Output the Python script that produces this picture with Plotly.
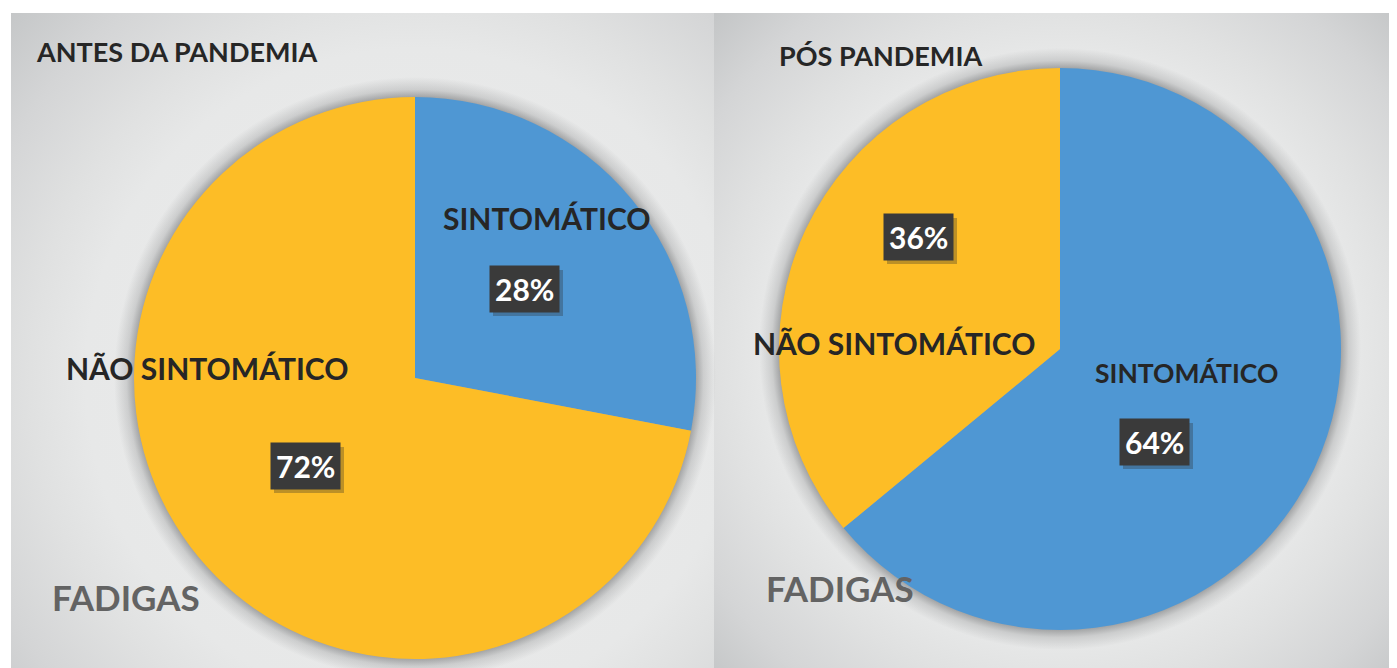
import numpy as np
import plotly.graph_objects as go

# ---------------- data ----------------
categories = ["SINTOMÁTICO", "NÃO SINTOMÁTICO"]
antes_values = [28, 72]
pos_values = [64, 36]
panel_titles = ["ANTES DA PANDEMIA", "PÓS PANDEMIA"]
footer_label = "FADIGAS"
slice_colors = ["#4F97D3", "#FDBD26"]

# ---------------- layout helpers ----------------
W, H = 1397, 668
OX, OY = 8, 8  # page body margin offset


def px(x):
    return (x - OX) / W


def py(y):
    return 1 - (y - OY) / H


FONT = "Lato"
R = 281
centers = [(415, 378), (1060, 349)]

fig = go.Figure()

# background panels with radial gradient centred on each pie
panels = [(11, 13, 714, 668), (714, 13, 1397, 668)]
edge_cols = ["#c4c6c7", "#c2c4c5"]
for (x0, y0, x1, y1), (cx, cy), ec in zip(panels, centers, edge_cols):
    Rg = max(np.hypot(x - cx, y - cy) for x in (x0, x1) for y in (y0, y1)) + 5
    # rectangle with zero-area spikes so that the gradient box is centred on the pie
    xs = [x0, cx, cx, cx, x1, x1, cx + Rg, x1, x1, cx, cx, cx, x0, x0, cx - Rg, x0, x0]
    ys = [y0, y0, cy - Rg, y0, y0, cy, cy, cy, y1, y1, cy + Rg, y1, y1, cy, cy, cy, y0]
    fig.add_trace(go.Scatter(
        x=xs, y=ys, mode="lines", line=dict(width=0), fill="toself",
        fillgradient=dict(type="radial",
                          colorscale=[[0, "#ededed"], [0.6, "#e7e8e8"], [0.7, "#e0e1e1"],
                                      [0.85, "#d4d5d6"], [1, ec]]),
        hoverinfo="skip", showlegend=False))

# soft shadow around each pie
t = np.linspace(0, 2 * np.pi, 241)
for (cx, cy) in centers:
    rs = R + 20
    fig.add_trace(go.Scatter(
        x=cx + rs * np.cos(t), y=cy + rs * np.sin(t),
        mode="lines", line=dict(width=0), fill="toself",
        fillgradient=dict(type="radial",
                          colorscale=[[0, "rgba(80,82,84,0.5)"], [R / rs, "rgba(80,82,84,0.45)"],
                                      [R / rs + 0.025, "rgba(80,82,84,0.18)"], [1, "rgba(80,82,84,0)"]]),
        hoverinfo="skip", showlegend=False))

# pies
for (cx, cy), vals in zip(centers, [antes_values, pos_values]):
    fig.add_trace(go.Pie(
        values=vals, labels=categories, sort=False, direction="clockwise", rotation=0,
        marker=dict(colors=slice_colors, line=dict(width=0)),
        textinfo="none", hoverinfo="label+percent", showlegend=False,
        domain=dict(x=[px(cx - R), px(cx + R)], y=[py(cy + R), py(cy - R)])))

# faint frame lines of the original chart areas
shapes = []
frame_lines = [
    (380, 57, 714, 57), (68, 57, 380, 57), (380, 57, 380, 97),
    (742, 29, 1380, 29), (742, 29, 742, 668), (1380, 29, 1380, 668),
    (1100, 29, 1100, 68), (742, 569, 812, 569), (812, 569, 812, 668),
]
for (x0, y0, x1, y1) in frame_lines:
    shapes.append(dict(type="line", xref="x", yref="y", x0=x0, y0=y0, x1=x1, y1=y1,
                       line=dict(color="rgba(255,255,255,0.35)", width=1), layer="below"))

ann = []


def label(x, y, text, size, color="#262626", bg=None, pad=0, xanchor="center"):
    ann.append(dict(x=px(x), y=py(y), xref="paper", yref="paper", text=text, showarrow=False,
                    xanchor=xanchor, yanchor="middle",
                    font=dict(family=FONT, size=size, color=color, weight="bold"),
                    bgcolor=bg, borderpad=pad))


def pct_box(x, y, v):
    # drop shadow of the box (drawn as a shape under the annotation)
    bw, bh, off = 70, 46, 4
    shapes.append(dict(type="rect", xref="x", yref="y",
                       x0=x - bw / 2 + off, x1=x + bw / 2 + off,
                       y0=y - bh / 2 + off, y1=y + bh / 2 + off,
                       fillcolor="rgba(40,40,40,0.3)", line=dict(width=0), layer="above"))
    label(x, y, f"{v}%", 30, color="white", bg="#3a3a3a", pad=5)


# left panel
label(35, 52, panel_titles[0], 27, xanchor="left")
label(547, 218, categories[0], 30)
pct_box(524, 289, antes_values[0])
label(207, 368, categories[1], 30)
pct_box(305, 466, antes_values[1])
label(126, 597, footer_label, 35, color="#636363")

# right panel
label(778, 55, panel_titles[1], 27, xanchor="left")
pct_box(918, 237, pos_values[1])
label(894, 343, categories[1], 30)
label(1186, 373, categories[0], 26.5)
pct_box(1154, 442, pos_values[0])
label(840, 588, footer_label, 35, color="#636363")

fig.update_layout(
    width=W, height=H, margin=dict(l=0, r=0, t=0, b=0),
    paper_bgcolor="white", plot_bgcolor="white",
    xaxis=dict(range=[OX, W + OX], visible=False, fixedrange=True),
    yaxis=dict(range=[H + OY, OY], visible=False, fixedrange=True),
    annotations=ann, shapes=shapes, showlegend=False,
)

fig.write_html("out.html")
